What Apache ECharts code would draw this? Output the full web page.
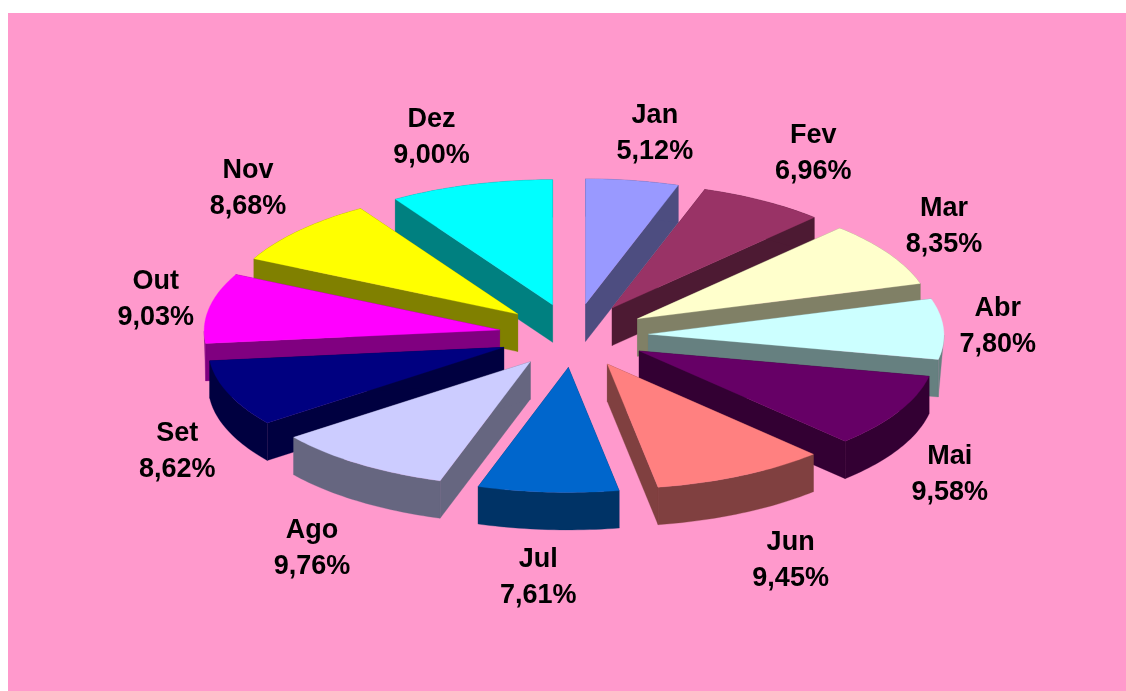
<!DOCTYPE html>
<html>
<head>
<meta charset="utf-8">
<style>html,body{margin:0;padding:0;background:#fff}#c{width:1126px;height:691px}</style>
<script src="https://cdn.jsdelivr.net/npm/echarts@6/dist/echarts.min.js"></script>
</head>
<body>
<div id="c"></div>
<script>
const months = ['Jan','Fev','Mar','Abr','Mai','Jun','Jul','Ago','Set','Out','Nov','Dez'];
const shares = [5.12,6.96,8.35,7.80,9.58,9.45,7.61,9.76,8.62,9.03,8.68,9.00];
const topColors = ['#9999FF','#993366','#FFFFCC','#CCFFFF','#660066','#FF8080','#0066CC','#CCCCFF','#000080','#FF00FF','#FFFF00','#00FFFF'];
const sideColors = ['#4D4D80','#4D1A33','#808066','#668080','#330033','#804040','#003366','#666680','#000040','#800080','#808000','#008080'];
const labelDx = [22,49,54.5,54,52,50,-10,-48,-52,-53,-50,-38.5];
const labelDy = [-47,-47,-27,-2,63,85,85.5,85,58,-9,-42,-47];

const CX = 573.5, CY = 335.5, RX = 295.5, RY = 125, EX = 75, EY = 32, DEPTH = 37.5, PERSP = 0.009;
const total = shares.reduce((a, b) => a + b, 0);
const starts = [];
shares.reduce((acc, v, i) => { starts[i] = acc; return acc + v; }, 0);
const rad = v => v / total * Math.PI * 2;
const mids = shares.map((v, i) => rad(starts[i] + v / 2));
const order = mids.map((m, i) => [Math.cos(m), i]).sort((a, b) => b[0] - a[0]);
const rank = [];
order.forEach((o, r) => { rank[o[1]] = r; });

function renderItem(params, api) {
  const i = params.dataIndex;
  const v = api.value(1);
  const a0 = rad(starts[i]), a1 = rad(starts[i] + v), m = mids[i];
  const ax = CX + EX * Math.sin(m), ay = CY - EY * Math.cos(m);
  const at = t => [ax + RX * (1 - PERSP * Math.cos(t)) * Math.sin(t), ay - RY * Math.cos(t)];
  const arc = [], angles = [];
  const n = Math.max(8, Math.ceil((a1 - a0) / 0.02));
  for (let k = 0; k <= n; k++) {
    const t = a0 + (a1 - a0) * k / n;
    angles.push(t);
    arc.push(at(t));
  }
  const down = p => [p[0], p[1] + DEPTH];
  const first = arc[0], last = arc[arc.length - 1], apex = [ax, ay];
  const base = rank[i] * 10 + 1;
  const poly = (points, fill, z) => ({
    type: 'polygon', z2: base + z,
    shape: { points },
    style: { fill, stroke: fill, lineWidth: 0.3 }
  });
  const straddles = h => a0 < h && a1 > h;
  let wall;
  if (straddles(Math.PI / 2)) {
    wall = arc.filter((p, k) => Math.cos(angles[k]) <= 0).concat([down(last)]);
  } else if (straddles(Math.PI * 1.5)) {
    wall = arc.filter((p, k) => Math.cos(angles[k]) <= 0).concat([down(first)]);
  } else {
    wall = arc.concat(arc.map(down).reverse());
  }
  const mp = [ax + RX * Math.sin(m), ay - RY * Math.cos(m)];
  return {
    type: 'group',
    children: [
      poly([apex, first, down(first), down(apex)], sideColors[i], 0),
      poly([apex, last, down(last), down(apex)], sideColors[i], 0),
      poly(wall, sideColors[i], 1),
      poly([apex].concat(arc), topColors[i], 2),
      {
        type: 'text', z2: 500,
        x: mp[0] + labelDx[i], y: mp[1] + labelDy[i],
        style: {
          text: months[i] + '\n' + v.toFixed(2).replace('.', ',') + '%',
          fill: '#000',
          font: 'bold 27px "Liberation Sans", Arial, sans-serif',
          lineHeight: 36,
          align: 'center',
          verticalAlign: 'middle'
        }
      }
    ]
  };
}

const chart = echarts.init(document.getElementById('c'), null, { renderer: 'canvas' });
chart.setOption({
  animation: false,
  backgroundColor: '#ffffff',
  graphic: [{
    type: 'rect', z: -10, silent: true,
    shape: { x: 8, y: 13, width: 1118, height: 678 },
    style: { fill: '#FF99CC' }
  }],
  series: [{
    type: 'custom',
    coordinateSystem: 'none',
    silent: true,
    renderItem,
    data: months.map((name, i) => ({ name, value: [i, shares[i]] }))
  }]
});
</script>
</body>
</html>
